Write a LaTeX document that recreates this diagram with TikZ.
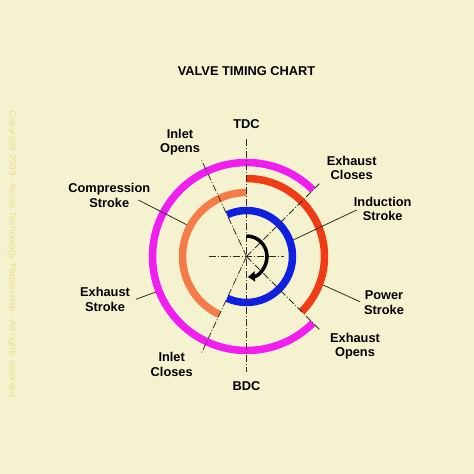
\documentclass[tikz,border=0pt]{standalone}
\usepackage{fontspec}
\setmainfont{Liberation Sans}
\usepackage{xcolor}
\definecolor{chartBg}{HTML}{F5F3CF}
\definecolor{chartInk}{HTML}{2E2E24}
\definecolor{copyInk}{HTML}{EEDC8C}
\definecolor{exhaustPink}{HTML}{F01EEE}
\definecolor{powerRed}{HTML}{F03C14}
\definecolor{compOrange}{HTML}{F57B48}
\definecolor{inductBlue}{HTML}{1020E0}
\usepackage{tikz}
\usetikzlibrary{arrows.meta,positioning,calc}
\tikzset{
    ring/.style={
        line width=7.5pt
    },
    timing/.style={
        color=chartInk,
        line width=0.8pt,
        dash pattern=on 7pt off 2pt on 1pt off 2pt
    },
    leader/.style={
        color=chartInk,
        line width=0.8pt
    },
    label/.style={
        font=\fontsize{12.8}{14.5}\selectfont\bfseries,
        align=center,
        inner sep=1pt,
        text=black
    },
    turn/.style={
        line width=3.5pt,
        -{Triangle[length=7pt,width=10pt]}
    }
}

\begin{document}
\begin{tikzpicture}[x=1pt,y=1pt]
    % Background
    \fill[chartBg] (-246.5,-217.5) rectangle (227.5,256.5);
    \useasboundingbox (-246.5,-217.5) rectangle (227.5,256.5);
    \coordinate (hub) at (0,0);

    % Title and copyright
    \node[label] (title) at (0,185.8) {VALVE TIMING CHART};
    \node[font=\fontsize{9.6}{11}\selectfont, text=copyInk, rotate=-90] (copy) at (-234.5,2.5)
        {Copyright 2003 - Kruse Technology Partnership - All rights reserved};

    % Strokes
    \draw[ring, exhaustPink] (45:94pt) arc[start angle=45, end angle=315, radius=94pt];
    \draw[ring, powerRed] (90:78pt) arc[start angle=90, end angle=-45, radius=78pt];
    \draw[ring, compOrange] (90:64pt) arc[start angle=90, end angle=245, radius=64pt];
    \draw[ring, inductBlue] (115:46pt) arc[start angle=115, end angle=-115, radius=46pt];

    % Dead centres and valve events
    \node[label] (tdc) at (0,132.5) {TDC};
    \node[label] (bdc) at (0,-129.5) {BDC};
    \node[label] (inOpen) at (-66.5,114.5) {Inlet\\Opens};
    \node[label] (exClose) at (105.2,88.5) {Exhaust\\Closes};
    \node[label] (exOpen) at (108.5,-89.5) {Exhaust\\Opens};
    \node[label] (inClose) at (-74.8,-108) {Inlet\\Closes};

    \coordinate (tdcEnd) at (0,117.5);
    \coordinate (bdcEnd) at (0,-115.2);
    \coordinate (inOpenEnd) at (115:106pt);
    \coordinate (exCloseEnd) at (45:104pt);
    \coordinate (exOpenEnd) at (-45:104pt);
    \coordinate (inCloseEnd) at (245:106pt);
    \coordinate (westEnd) at (-37.5,0);
    \coordinate (eastEnd) at (37.5,0);

    \draw[timing] (tdcEnd) -- (bdcEnd);
    \draw[timing] (westEnd) -- (eastEnd);
    \foreach \e in {inOpenEnd,exCloseEnd,exOpenEnd,inCloseEnd}
        \draw[timing] (hub) -- (\e);

    % Stroke labels
    \node[label] (compLbl) at (-137.2,61) {Compression\\Stroke};
    \node[label] (indLbl) at (136.2,47.5) {Induction\\Stroke};
    \node[label] (exLbl) at (-141.5,-43) {Exhaust\\Stroke};
    \node[label] (powLbl) at (137.5,-46) {Power\\Stroke};

    \coordinate (compFoot) at (-108.2,56.5);
    \coordinate (indFoot) at (110.2,46.5);
    \coordinate (exFoot) at (-110.5,-42.8);
    \coordinate (powFoot) at (113.5,-45.2);
    \coordinate (compArc) at (152:67.5pt);
    \coordinate (indArc) at (19.5:49.5pt);
    \coordinate (exArc) at (201.4:97.5pt);
    \coordinate (powArc) at (-20.4:81.5pt);

    \draw[leader] (compFoot) -- (compArc);
    \draw[leader] (indFoot) -- (indArc);
    \draw[leader] (exFoot) -- (exArc);
    \draw[leader] (powFoot) -- (powArc);

    % Rotation
    \draw[turn] (90:20.5pt) arc[start angle=90, end angle=-86, radius=20.5pt];
\end{tikzpicture}
\end{document}
